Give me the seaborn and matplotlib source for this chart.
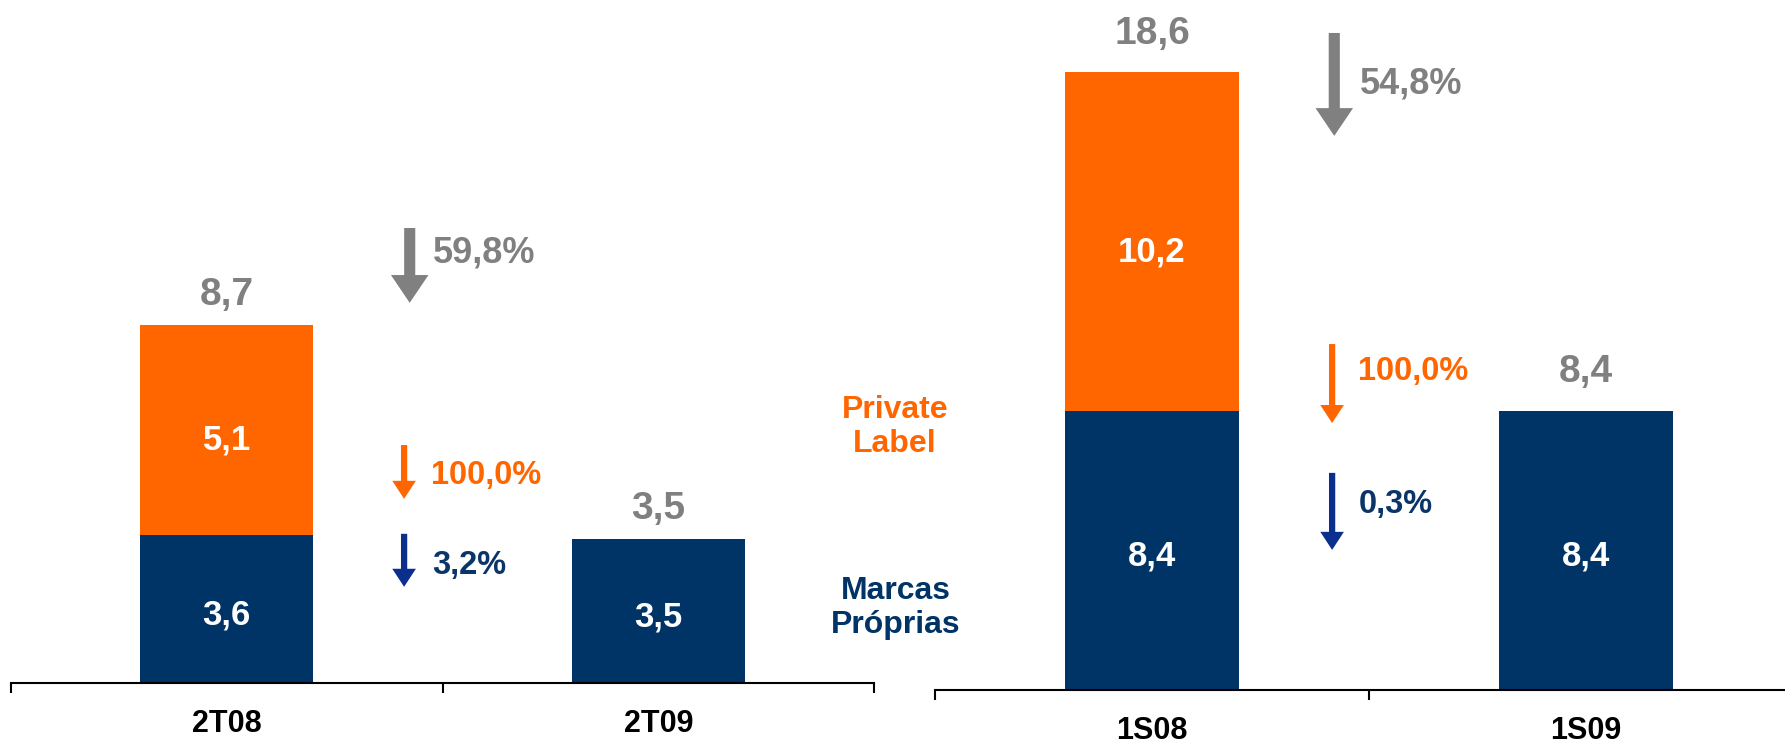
import matplotlib
matplotlib.use('Agg')
import matplotlib.pyplot as plt
import seaborn as sns

# 2nd quarter comparison
quarters = ['2T08', '2T09']
marcas_q = [3.6, 3.5]
private_q = [5.1, 0.0]
var_q = ['59,8%', '100,0%', '3,2%']   # total, private label, marcas proprias

# 1st half comparison
halves = ['1S08', '1S09']
marcas_s = [8.4, 8.4]
private_s = [10.2, 0.0]
var_s = ['54,8%', '100,0%', '0,3%']

NAVY = '#003366'
ORANGE = '#FF6600'
GRAY = '#808080'
ARROW_BLUE = '#0A2F8C'
TEXT_BLUE = '#0B3568'

sns.set_style('white')
plt.rcParams['font.family'] = ['Liberation Sans', 'DejaVu Sans']
plt.rcParams['font.weight'] = 'bold'


def fmt(v):
    return f'{v:.1f}'.replace('.', ',')


def down_arrow(ax, x, y0, y1, color, big=False):
    if big:
        style = 'simple,head_width=2.7,head_length=2.0,tail_width=0.8'
    else:
        style = 'simple,head_width=1.7,head_length=1.3,tail_width=0.45'
    ax.annotate('', xy=(x, y1), xytext=(x, y0),
                arrowprops=dict(arrowstyle=style, mutation_scale=10, color=color,
                                shrinkA=0, shrinkB=0, lw=0))


def draw_panel(ax, cats, marcas, private, variations, ymax, total_pad, arrows, texts):
    totals = [m + p for m, p in zip(marcas, private)]
    sns.barplot(x=cats, y=marcas, color=NAVY, saturation=1, width=0.4, linewidth=0, ax=ax)
    sns.barplot(x=cats, y=private, bottom=marcas, color=ORANGE, saturation=1, width=0.4,
                linewidth=0, ax=ax)

    for i, (m, p, t) in enumerate(zip(marcas, private, totals)):
        ax.annotate(fmt(m), xy=(i, m / 2), xytext=(0, -4), textcoords='offset points',
                    ha='center', va='center', color='white', fontsize=25)
        if p > 0:
            ax.annotate(fmt(p), xy=(i, m + p / 2), xytext=(0, -7), textcoords='offset points',
                        ha='center', va='center', color='white', fontsize=25)
        ax.annotate(fmt(t), xy=(i, t), xytext=(0, total_pad), textcoords='offset points',
                    ha='center', va='center', color=GRAY, fontsize=28)

    colors = [(GRAY, GRAY), (ORANGE, ORANGE), (ARROW_BLUE, TEXT_BLUE)]
    sizes = [26, 23.5, 23.5]
    for k, (lab, (ac, tc), fs) in enumerate(zip(variations, colors, sizes)):
        ax_x, y0, y1 = arrows[k]
        tx, ty = texts[k]
        down_arrow(ax, ax_x, y0, y1, ac, big=(k == 0))
        ax.text(tx, ty, lab, ha='left', va='center', color=tc, fontsize=fs)

    ax.set_xlim(-0.5, 1.5)
    ax.set_ylim(0, ymax)
    ax.set_xticks([0, 1], cats)
    ax.set_xticks([-0.5, 0.5, 1.5], minor=True)
    ax.tick_params(axis='x', which='major', length=0, pad=19, labelsize=22, labelcolor='black')
    ax.tick_params(axis='x', which='minor', length=7, width=1.5, color='black', direction='out',
                   bottom=True)
    ax.set_yticks([])
    ax.set_xlabel('')
    ax.set_ylabel('')
    for s in ['top', 'left', 'right']:
        ax.spines[s].set_visible(False)
    ax.spines['bottom'].set_color('black')
    ax.spines['bottom'].set_linewidth(1.5)
    for lab in ax.get_xticklabels():
        lab.set_fontweight('bold')


fig = plt.figure(figsize=(17.85, 7.5), dpi=100)
ax1 = fig.add_axes([11 / 1785, 67 / 750, 863 / 1785, 683 / 750])
ax2 = fig.add_axes([935 / 1785, 60 / 750, 868 / 1785, 690 / 750])

draw_panel(ax1, quarters, marcas_q, private_q, var_q, ymax=683 / 41.1, total_pad=22,
           arrows=[(0.424, 11.07, 9.25), (0.411, 5.79, 4.48), (0.411, 3.63, 2.34)],
           texts=[(0.477, 10.46), (0.474, 5.06), (0.477, 2.87)])
draw_panel(ax2, halves, marcas_s, private_s, var_s, ymax=690 / 33.2, total_pad=28,
           arrows=[(0.42, 19.79, 16.69), (0.415, 10.42, 8.04), (0.415, 6.54, 4.22)],
           texts=[(0.479, 18.25), (0.475, 9.58), (0.477, 5.6)])

fig.text(895 / 1785, (750 - 427) / 750, 'Private\nLabel', ha='center', va='center',
         color=ORANGE, fontsize=23, linespacing=1.2)
fig.text(896 / 1785, (750 - 608) / 750, 'Marcas\nPróprias', ha='center', va='center',
         color=NAVY, fontsize=23, linespacing=1.2)

fig.savefig('out.png', dpi=100)
plt.close(fig)
